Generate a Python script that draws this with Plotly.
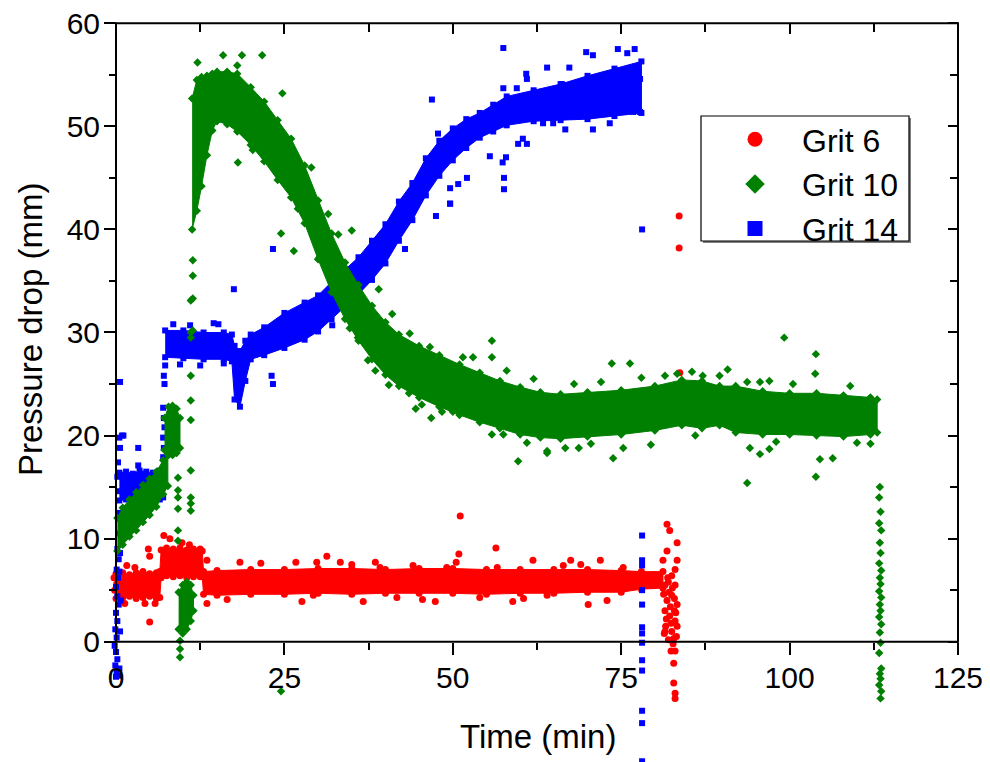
import plotly.graph_objects as go

# ---------------- Grit 6 (red) ----------------
g6_band_t  = [0.0, 1.0, 2.0, 3.0, 4.0, 5.0, 6.0, 6.5, 6.7, 7.5, 8.5, 9.5, 10.5, 11.5, 12.5, 12.8,
              13.0, 15, 20, 25, 30, 35, 40, 45, 50, 55, 60, 65, 70, 75, 78, 81.2]
g6_band_lo = [4.2, 4.3, 4.4, 4.2, 4.3, 4.4, 4.2, 4.3, 6.2, 6.4, 6.3, 6.4, 6.2, 6.3, 6.3, 6.3,
              4.6, 4.5, 4.6, 4.6, 4.7, 4.6, 4.7, 4.7, 4.7, 4.6, 4.7, 4.7, 4.8, 4.8, 5.1, 5.2]
g6_band_hi = [6.6, 6.7, 6.5, 6.7, 6.8, 6.6, 6.7, 6.8, 8.9, 9.1, 9.0, 9.1, 8.9, 9.0, 9.0, 8.8,
              6.8, 6.9, 7.0, 7.0, 7.1, 7.1, 7.0, 7.1, 7.1, 7.0, 7.0, 7.0, 7.0, 6.9, 6.8, 6.8]
g6_pts_t = [5.0, 51.1, 50.9, 56.4, 83.6, 83.6, 83.7, 7.1, 13.5, 70.1, 47.4, 36.7, 27.6, 58.9,
            13.5, 18.4, 26.7, 29.8, 31.3, 33.3, 38.5, 50.5, 61.9, 67.5, 71.9,
            4.8, 5.0, 1.6, 2.8, 1.3, 4.3, 5.8, 16.5, 29.3, 41.7, 54.0, 64.0, 72.9,
            39.2, 44.1, 49.1, 56.6, 66.4, 75.3, 9.8, 10.9, 8.0,
            81.8, 82.2, 83.3, 81.8, 81.2, 83.3, 83.0, 82.5, 81.5, 83.0, 81.8, 82.5, 83.3, 81.5,
            82.2, 83.0, 81.6, 82.5, 83.2, 82.0, 82.7, 82.4, 83.0, 82.8, 82.8, 83.0, 83.0, 83.3,
            81.9, 82.9, 81.4, 82.1, 82.6, 81.7, 82.9, 82.3, 81.5, 82.8, 83.1, 82.0, 82.4, 81.3,
            -0.2, -0.3, 0.1, 21.5, 35.0, 45.5, 60.5, 69.0]
g6_pts_v = [1.9, 12.2, 8.5, 9.1, 41.3, 38.2, 26.1, 10.3, 3.7, 3.6, 3.9, 3.9, 3.9, 3.9,
            7.9, 7.7, 7.7, 7.7, 8.3, 7.7, 7.7, 7.7, 7.9, 7.9, 7.9,
            9.0, 8.3, 7.4, 7.2, 3.7, 3.7, 3.7, 4.1, 4.5, 4.3, 4.3, 4.5, 4.0,
            7.2, 7.4, 7.2, 7.2, 7.4, 7.2, 9.6, 9.4, 10.0,
            11.4, 10.8, 9.6, 8.8, 7.9, 7.9, 7.0, 6.4, 5.5, 5.5, 4.0, 4.5, 3.6, 3.0,
            2.5, 2.0, 1.5, 1.0, 0.5, 0.2, -0.2, -0.9, -0.9, -2.1, -4.0, -5.0, -5.5, 1.5,
            6.2, 3.0, 0.8, 4.8, 5.2, 2.2, 4.2, 3.4, 1.0, 0.3, 2.8, 5.8, 1.8, 4.6,
            5.0, 6.2, 5.6, 7.6, 7.5, 4.1, 4.2, 7.5]

# ---------------- Grit 10 (green) ----------------
g10_rise_t  = [0.2, 1.0, 2.0, 3.0, 4.0, 5.0, 6.0, 7.0, 7.7]
g10_rise_lo = [8.8, 9.4, 10.2, 10.8, 11.6, 12.3, 13.1, 14.3, 15.1]
g10_rise_hi = [12.0, 13.0, 13.8, 14.5, 15.2, 15.8, 16.5, 17.6, 18.2]
g10_blob_t  = [7.2, 7.8, 8.4, 9.0, 9.5]
g10_blob_lo = [18.6, 18.1, 18.1, 18.3, 18.8]
g10_blob_hi = [21.7, 22.8, 22.9, 22.6, 21.7]
g10_low_t   = [9.3, 9.9, 10.5, 11.1, 11.5]
g10_low_lo  = [1.2, 0.8, 1.2, 2.0, 3.0]
g10_low_hi  = [4.8, 5.5, 5.8, 5.5, 4.5]
g10_main_t  = [11.3, 12.0, 12.7, 13.5, 14.3, 15.0, 16.5, 18.0, 20.0, 22.0, 24.0, 26.0, 28.0,
               30.0, 32.0, 34.0, 36.0, 38.0, 40.0, 42.0, 45.0, 48.0, 51.0, 54.0, 57.0, 60.0,
               63.0, 66.0, 70.0, 75.0, 80.0, 84.0, 87.0, 89.6, 92.0, 96.0, 100.0, 104.0,
               108.0, 112.0, 113.0]
g10_main_lo = [40.0, 41.8, 44.2, 47.2, 49.6, 50.5, 50.2, 49.5, 48.2, 46.6, 44.8, 43.1, 40.6,
               37.1, 33.9, 31.3, 29.2, 27.4, 25.9, 24.8, 23.7, 22.8, 22.0, 21.3, 20.7, 20.1,
               19.8, 19.7, 19.9, 20.1, 20.5, 21.0, 20.7, 21.0, 20.3, 20.1, 20.1, 20.0,
               19.9, 20.1, 20.3]
g10_main_hi = [52.7, 54.5, 54.8, 54.9, 55.1, 55.3, 55.3, 55.1, 53.8, 52.4, 50.6, 48.8, 46.2,
               42.8, 39.6, 36.8, 34.6, 32.6, 31.0, 29.8, 28.7, 27.8, 26.9, 26.1, 25.3, 24.7,
               24.2, 24.0, 24.2, 24.4, 24.8, 25.4, 25.3, 24.8, 24.8, 24.3, 24.1, 24.1,
               23.9, 23.7, 23.5]
g10_pts_t = [11.1, 11.1, 11.1, 11.1, 11.1, 11.1, 11.1, 11.1, 11.1, 11.1, 11.4, 11.4, 11.4, 11.4,
             9.2, 9.2, 9.2, 9.2, 9.2, 9.2, 9.5, 9.5, 9.5,
             12.1, 15.9, 18.7, 21.7, 18.0, 24.7, 18.1, 20.3, 24.5, 26.4, 34.7, 30.2, 35.0,
             55.8, 55.8, 46.8, 59.7, 55.8, 73.6, 76.3, 99.2, 103.9, 93.7, 103.9, 73.8, 64.0, 24.5,
             81.5, 83.3, 87.1, 89.6, 90.8, 93.7, 95.6, 97.0, 103.8, 111.9,
             64.0, 66.7, 68.7, 75.3, 79.4, 94.1, 95.6, 97.0, 104.5, 106.4, 112.0,
             48.4, 50.0, 45.4, 43.5, 37.4, 34.9, 35.9, 43.6, 46.6, 51.5,
             113.4, 113.3, 113.5, 113.3, 113.6, 113.4, 113.5, 113.3, 113.6, 113.4, 113.5,
             113.3, 113.6, 113.4, 113.5, 113.3, 113.6, 113.4, 113.5, 113.3, 113.6, 113.4,
             113.5, 113.3, 113.6, 113.5,
             27.0, 29.0, 31.5, 33.0, 39.0, 41.0, 53.0, 58.0, 62.0, 68.0, 72.0, 78.0, 85.5,
             100.5, 109.0, 38.5, 40.5, 44.5, 57.5, 61.0, 70.5, 86.0, 98.0, 110.0, 22.8, 14.0]
g10_pts_v = [33.1, 30.0, 29.5, 25.8, 23.4, 21.5, 16.6, 14.0, 13.4, 12.7, 37.0, 35.5, 33.3, 30.2,
             15.9, 14.7, 14.0, 12.9, 10.8, 9.8, 0.1, -0.7, -1.5,
             56.2, 56.9, 56.9, 56.9, 55.9, 53.2, 46.5, 47.7, 39.6, 37.9, 30.4, 37.3, 39.9,
             29.2, 27.6, 21.7, 17.5, 20.1, 27.0, 27.0, 29.5, 27.9, 15.4, 16.0, 17.8, 18.3, -4.8,
             25.8, 26.0, 25.8, 25.8, 26.4, 25.2, 25.2, 25.3, 26.0, 23.6,
             18.5, 18.8, 18.8, 18.8, 19.1, 18.8, 18.2, 18.7, 17.7, 17.8, 19.2,
             22.3, 22.3, 23.0, 24.1, 27.3, 30.5, 29.5, 29.9, 28.6, 27.6,
             15.0, 14.0, 12.6, 11.5, 10.8, 9.6, 8.6, 7.6, 6.9, 6.2, 5.6,
             4.9, 4.3, 3.6, 3.0, 2.4, 1.7, 0.9, -0.1, -1.1, -2.6, -3.1,
             -3.6, -4.2, -4.8, -5.5,
             42.0, 46.0, 41.5, 39.5, 34.2, 31.8, 27.6, 26.3, 25.5, 25.0, 25.2, 25.6, 26.2,
             25.0, 24.8, 26.3, 24.9, 22.6, 20.1, 19.3, 19.2, 20.0, 19.4, 19.3, 51.0, 54.5]

# ---------------- Grit 14 (blue) ----------------
g14_early_t  = [0.5, 1.5, 2.5, 3.5, 4.5, 5.5, 6.5, 7.0]
g14_early_lo = [13.7, 13.8, 13.9, 13.7, 13.8, 14.0, 13.8, 14.0]
g14_early_hi = [16.4, 16.5, 16.3, 16.6, 16.5, 16.4, 16.6, 16.6]
g14_main_t  = [7.3, 10, 13, 16, 17.2, 17.6, 18.4, 19.2, 20, 22, 25, 28, 30, 32, 34, 36, 38, 40,
               42, 44, 46, 48, 50, 52, 54, 56, 58, 62, 66, 70, 74, 78.0]
g14_main_lo = [27.6, 27.5, 27.4, 27.4, 27.2, 23.5, 22.8, 25.3, 27.4, 27.8, 28.5, 29.3, 30.1,
               31.3, 32.5, 33.7, 35.1, 36.7, 38.9, 40.9, 43.3, 45.2, 46.7, 47.9, 48.9, 49.5,
               50.1, 50.5, 50.6, 50.7, 51.0, 51.3]
g14_main_hi = [30.2, 30.2, 30.0, 30.0, 29.8, 28.7, 28.2, 29.2, 29.8, 30.5, 31.9, 32.9, 33.6,
               34.9, 36.1, 37.3, 38.9, 40.5, 42.7, 44.5, 46.9, 48.6, 49.8, 50.7, 51.3, 52.1,
               52.9, 53.5, 54.1, 54.9, 55.6, 56.3]
g14_pts_t = [0.6, 0.5, 0.6, 0.9, 0.3, 0.2, 0.4, 0.3, 0.5, 0.2, 0.4, 0.1, 0.3, 0.0, 0.2, 0.4,
             0.0, 0.2, -0.1, 0.1, -0.2, 0.0, 0.2, -0.1, 0.1, 0.3, 0.0, 0.5, 0.6, 0.7, 0.5, 0.6,
             0.8, 3.3, 3.3, 1.1,
             7.0, 7.1, 7.0, 7.2, 7.1, 7.0, 7.2, 7.1, 7.3,
             46.9, 57.5, 47.8, 57.6, 57.6, 57.4, 78.1, 74.5, 75.9, 77.0, 69.8, 70.8, 64.0, 67.3,
             60.9, 49.6, 42.9, 23.3, 17.5, 32.1, 23.3, 23.1,
             61.0, 59.5, 57.5, 66.2, 70.8, 73.3, 66.7, 64.9, 63.4, 60.4, 61.0, 59.7, 57.9, 55.5,
             50.8, 52.1, 49.6, 49.6, 47.5, 75.3, 76.8, 77.8, 77.3, 77.8,
             78.1, 78.1, 78.1, 78.1, 78.1, 78.1, 78.1, 78.1, 78.1, 78.1, 78.1, 78.1, 78.1,
             8.5, 11.0, 14.5, 16.0, 9.5, 12.5, 15.2]
g14_pts_v = [25.2, 19.8, 18.8, 20.0, 17.4, 16.0, 14.6, 12.5, 10.5, 9.0, 8.0, 7.0, 6.2, 5.3,
             4.4, 3.6, 2.8, 2.0, 1.2, 0.4, -0.4, -1.0, -1.7, -2.3, -2.9, -3.3, -3.4, -2.6, 1.0,
             4.0, 6.8, 8.6, 11.0, 18.8, 17.1, 20.0,
             17.9, 18.8, 19.8, 20.8, 21.7, 22.7, 25.0, 25.8, 26.8,
             52.6, 57.6, 49.3, 45.0, 43.9, 46.5, 40.0, 57.5, 57.1, 57.5, 57.2, 56.9, 55.7, 55.7,
             55.1, 42.5, 38.1, 38.1, 34.2, 30.7, 25.0, 25.8,
             54.6, 53.7, 53.7, 54.1, 49.7, 50.3, 49.7, 50.3, 50.3, 48.8, 48.3, 48.3, 47.0, 47.1,
             44.4, 45.0, 44.0, 42.5, 41.3, 51.4, 51.4, 51.4, 52.5, 54.6,
             10.3, 7.9, 7.4, 5.0, 3.6, 1.4, 0.8, -0.1, -1.8, -2.8, -6.7, -7.9, -11.6,
             30.8, 30.7, 30.9, 27.0, 26.9, 26.8, 30.8]

# ---------------- axes ----------------
x_ticks = [0, 25, 50, 75, 100, 125]
x_minor = [12.5, 37.5, 62.5, 87.5, 112.5]
y_ticks = [0, 10, 20, 30, 40, 50, 60]
y_minor = [5, 15, 25, 35, 45, 55]
series_names = ["Grit 6", "Grit 10", "Grit 14"]

RED, GREEN, BLUE = "#FF0000", "#008000", "#0000FF"
FONT = "Liberation Sans, Arial, Helvetica, sans-serif"
SYM = {RED: "circle", GREEN: "diamond", BLUE: "square"}
SIZE = {RED: 7, GREEN: 6.5, BLUE: 6}

# The page body adds an 8 px offset, so figure pixel = screen pixel - 8.
W, H = 990, 762
OFF = 8.0
X0PX, XPPU = 116.0 - OFF, 6.736      # pixel of t=0, pixels per minute
Y0PX, YPPU = 641.7 - OFF, 10.307     # pixel of p=0, pixels per mm
TOPPX = 23.3 - OFF
RIGHTPX = 958.0 - OFF
x_range = [-X0PX / XPPU, (W - X0PX) / XPPU]
y_range = [-(H - Y0PX) / YPPU, Y0PX / YPPU]


def px(xp):
    return (xp - OFF) / W


def py(yp):
    return 1 - (yp - OFF) / H


fig = go.Figure()


def band(t, lo, hi, color):
    fig.add_trace(go.Scatter(x=list(t) + list(t)[::-1], y=list(hi) + list(lo)[::-1],
                             fill="toself", fillcolor=color, mode="lines",
                             line=dict(color=color, width=1), hoverinfo="skip",
                             showlegend=False))
    fig.add_trace(go.Scatter(x=list(t) + list(t), y=list(lo) + list(hi), mode="markers",
                             marker=dict(color=color, symbol=SYM[color], size=SIZE[color],
                                         line=dict(width=0)),
                             hoverinfo="skip", showlegend=False))


def pts(t, v, color):
    fig.add_trace(go.Scatter(x=t, y=v, mode="markers",
                             marker=dict(color=color, symbol=SYM[color], size=SIZE[color],
                                         line=dict(width=0)),
                             hoverinfo="skip", showlegend=False))


for name, col in zip(series_names, [RED, GREEN, BLUE]):
    fig.add_trace(go.Scatter(x=[None], y=[None], mode="markers", name=name,
                             marker=dict(color=col, symbol=SYM[col], size=15, line=dict(width=0))))

band(g6_band_t, g6_band_lo, g6_band_hi, RED)
pts(g6_pts_t, g6_pts_v, RED)
band(g14_early_t, g14_early_lo, g14_early_hi, BLUE)
band(g14_main_t, g14_main_lo, g14_main_hi, BLUE)
pts(g14_pts_t, g14_pts_v, BLUE)
band(g10_rise_t, g10_rise_lo, g10_rise_hi, GREEN)
band(g10_blob_t, g10_blob_lo, g10_blob_hi, GREEN)
band(g10_low_t, g10_low_lo, g10_low_hi, GREEN)
band(g10_main_t, g10_main_lo, g10_main_hi, GREEN)
pts(g10_pts_t, g10_pts_v, GREEN)

fig.add_trace(go.Scatter(x=[None], y=[None], xaxis="x2", yaxis="y2", showlegend=False,
                         hoverinfo="skip"))

common = dict(showgrid=False, zeroline=False, showline=False, tickcolor="black",
              tickwidth=2, automargin=False, anchor="free")
TICKFONT = dict(family=FONT, size=30, color="black")

fig.update_layout(
    width=W, height=H,
    margin=dict(l=0, r=0, t=0, b=0, pad=0),
    paper_bgcolor="white", plot_bgcolor="white",
    font=dict(family=FONT, size=30, color="black"),
    xaxis=dict(range=x_range, tickvals=x_ticks, ticks="outside", ticklen=12, side="bottom",
               position=1 - Y0PX / H, tickfont=TICKFONT, ticklabelstandoff=-3,
               ticklabeloverflow="allow",
               minor=dict(tickvals=x_minor, ticks="outside", ticklen=7, tickwidth=2,
                          tickcolor="black"),
               **common),
    yaxis=dict(range=y_range, tickvals=y_ticks, ticks="outside", ticklen=12, side="left",
               position=X0PX / W, tickfont=TICKFONT, ticklabelstandoff=-2,
               ticklabeloverflow="allow",
               minor=dict(tickvals=y_minor, ticks="outside", ticklen=7, tickwidth=2,
                          tickcolor="black"),
               **common),
    xaxis2=dict(range=x_range, overlaying="x", side="top", position=1 - TOPPX / H,
                tickvals=x_ticks, ticks="inside", ticklen=10, showticklabels=False,
                minor=dict(tickvals=x_minor, ticks="inside", ticklen=8, tickwidth=2,
                           tickcolor="black"),
                **common),
    yaxis2=dict(range=y_range, overlaying="y", side="right", position=RIGHTPX / W,
                tickvals=y_ticks, ticks="inside", ticklen=10, showticklabels=False,
                minor=dict(tickvals=y_minor, ticks="inside", ticklen=8, tickwidth=2,
                           tickcolor="black"),
                **common),
    legend=dict(x=px(708), y=py(112), xanchor="left", yanchor="top",
                bgcolor="rgba(0,0,0,0)", borderwidth=0, itemwidth=84,
                font=dict(family=FONT, size=32), tracegroupgap=0),
    shapes=[
        dict(type="rect", xref="x", yref="y", x0=0, x1=125, y0=0, y1=60,
             line=dict(color="black", width=2), fillcolor="rgba(0,0,0,0)", layer="above"),
        dict(type="rect", xref="paper", yref="paper", x0=px(703), x1=px(911),
             y0=py(243), y1=py(118), fillcolor="#808080", line=dict(width=0),
             layer="above"),
        dict(type="rect", xref="paper", yref="paper", x0=px(701), x1=px(909),
             y0=py(241), y1=py(116), fillcolor="white",
             line=dict(color="black", width=1.2), layer="above"),
    ],
    annotations=[
        dict(text="Time (min)", xref="paper", yref="paper", x=px(538), y=py(736),
             xanchor="center", yanchor="middle", showarrow=False,
             font=dict(family=FONT, size=33)),
        dict(text="Pressure drop (mm)", xref="paper", yref="paper", x=px(30), y=py(330),
             xanchor="center", yanchor="middle", showarrow=False, textangle=-90,
             font=dict(family=FONT, size=33)),
    ],
)

fig.write_html("out.html")
